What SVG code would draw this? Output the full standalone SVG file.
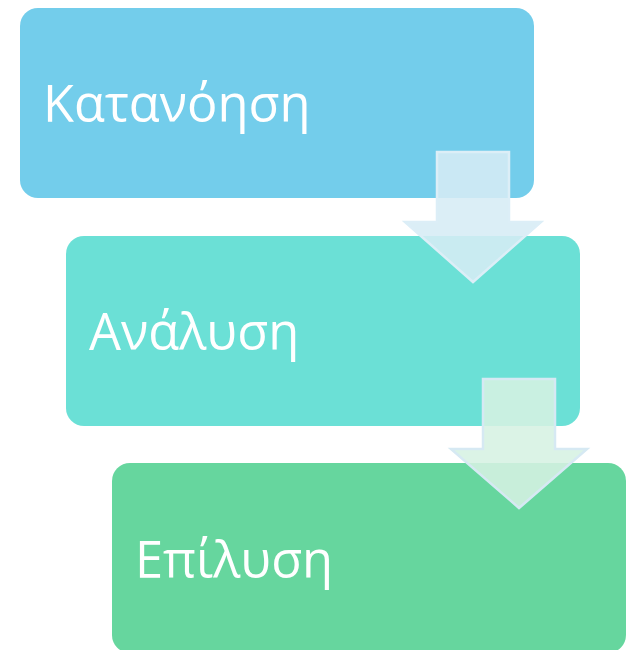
<svg xmlns="http://www.w3.org/2000/svg" width="629" height="650" viewBox="0 0 629 650">
<style>
.lbl{font-family:"Open Sans","Noto Sans","DejaVu Sans",sans-serif;font-size:50.6px;fill:#FFFFFF}
.arr{stroke-width:2.5;stroke-linejoin:miter}
</style>
<rect width="629" height="650" fill="#FFFFFF"/>
<g id="node1">
<rect x="20" y="8" width="514" height="190" rx="18" fill="#73CDEB"/>
<text class="lbl" x="43" y="122">Κατανόηση</text>
</g>
<g id="node2">
<rect x="66" y="236" width="514" height="190" rx="18" fill="#6BE0D6"/>
<text class="lbl" x="89" y="350">Ανάλυση</text>
</g>
<g id="node3">
<rect x="112" y="463" width="514" height="190" rx="18" fill="#66D69E"/>
<text class="lbl" x="135" y="578">Επίλυση</text>
</g>
<g id="connectors">
<polygon class="arr" points="437,152 509,152 509,222 541,222 473,282 405,222 437,222" fill="#D6ECF5" fill-opacity="0.88" stroke="#DCEEF7"/>
<polygon class="arr" points="483,379 555,379 555,449 587,449 519,508 451,449 483,449" fill="#D6F1E3" fill-opacity="0.88" stroke="#D6E9F3"/>
</g>
</svg>
